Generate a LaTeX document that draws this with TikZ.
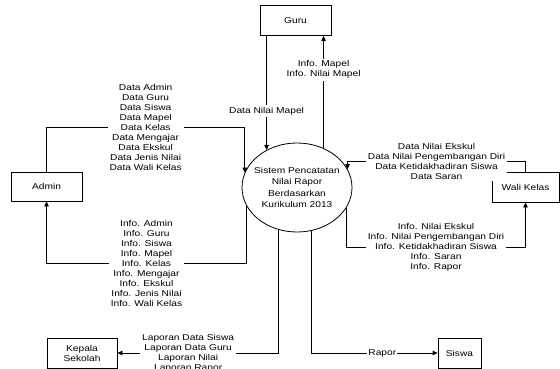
\documentclass[tikz,border=0pt]{standalone}
\usepackage{fontspec}
\setmainfont{Liberation Sans}[FakeStretch=1.2]
\usetikzlibrary{arrows.meta, shapes.geometric}

\begin{document}
\begin{tikzpicture}[x=1pt, y=-1pt,
	font=\fontsize{8.5}{10}\selectfont,
	entitas/.style={draw, line width=0.8pt, minimum width=71pt, minimum height=30pt, inner sep=1pt, align=center},
	proses/.style={draw, ellipse, line width=0.8pt, minimum width=110pt, minimum height=89pt, inner sep=0pt},
	aliran/.style={line width=0.8pt, -{Triangle[length=5pt,width=4.5pt]}},
	ket/.style={fill=white, align=center, inner sep=2pt}]
	\useasboundingbox (0,0) rectangle (560,369);
	% entitas luar
	\node[entitas] (guru) at (295.5,20.5) {Guru};
	\node[entitas, minimum height=29pt] (admin) at (46.5,186.5) {Admin};
	\node[entitas, minimum width=67pt] (wali) at (525.5,187) {Wali Kelas};
	\node[entitas, minimum width=70pt] (kepala) at (82,353) {Kepala\\Sekolah};
	\node[entitas, minimum width=43pt] (siswa) at (459.5,353) {Siswa};
	% proses
	\node[proses, label={[align=center, font=\fontsize{8.5}{11.3}\selectfont]center:Sistem Pencatatan\\Nilai Rapor\\Berdasarkan\\Kurikulum 2013}] (sistem) at (297,187.5) {};

	% guru
	\draw[aliran] (sistem.129 |- guru.south) -- node[ket, pos=0.66] {Data Nilai Mapel} (sistem.129);
	\draw[aliran] (sistem.56) -- node[ket, pos=0.70] {Info. Mapel\\Info. Nilai Mapel} (sistem.56 |- guru.south);
	% admin
	\draw[aliran] (admin.north) |- node[ket, pos=0.75] {Data Admin\\Data Guru\\Data Siswa\\Data Mapel\\Data Kelas\\Data Mengajar\\Data Ekskul\\Data Jenis Nilai\\Data Wali Kelas} (sistem.164 |- 0,127) -- (sistem.164);
	\draw[aliran] (sistem.200) |- node[ket, pos=0.75] {Info. Admin\\Info. Guru\\Info. Siswa\\Info. Mapel\\Info. Kelas\\Info. Mengajar\\Info. Ekskul\\Info. Jenis Nilai\\Info. Wali Kelas} (admin.south |- 0,263) -- (admin.south);
	% wali kelas
	\draw[aliran] (wali.north) |- node[ket, pos=0.75] {Data Nilai Ekskul\\Data Nilai Pengembangan Diri\\Data Ketidakhadiran Siswa\\Data Saran} (sistem.20 |- 0,161) -- (sistem.20);
	\draw[aliran] (sistem.338) |- node[ket, pos=0.75] {Info. Nilai Ekskul\\Info. Nilai Pengembangan Diri\\Info. Ketidakhadiran Siswa\\Info. Saran\\Info. Rapor} (wali.south |- 0,247) -- (wali.south);
	% kepala sekolah, siswa
	\draw[aliran] (sistem.246) |- node[ket, pos=0.78] {Laporan Data Siswa\\Laporan Data Guru\\Laporan Nilai\\Laporan Rapor} (kepala.east);
	\draw[aliran] (sistem.289) |- node[ket, pos=0.78, inner sep=1pt] {Rapor} (siswa.west);
\end{tikzpicture}
\end{document}
